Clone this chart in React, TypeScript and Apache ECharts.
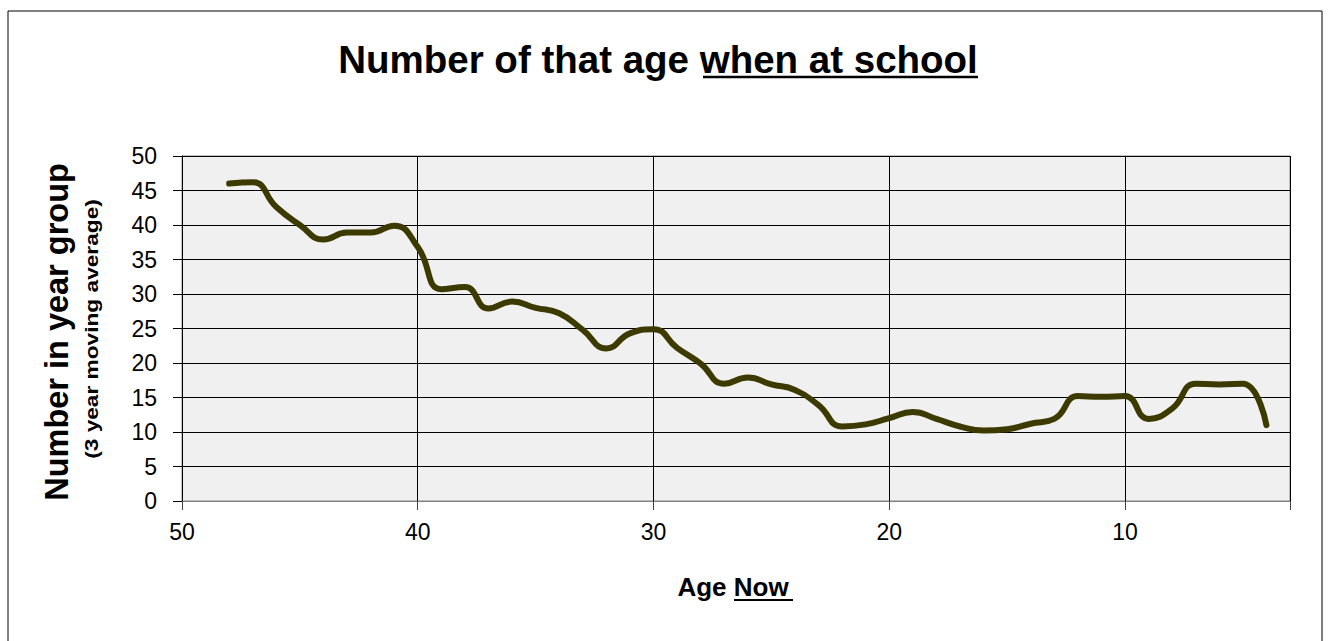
import React, { useEffect, useRef } from 'react';
import * as echarts from 'echarts';

// Age now (x) and number in year group, 3-year moving average (y)
const ages = [48, 47, 46, 45, 44, 43, 42, 41, 40, 39, 38, 37, 36, 35, 34, 33, 32, 31, 30, 29, 28, 27, 26, 25, 24, 23, 22, 21, 20, 19, 18, 17, 16, 15, 14, 13, 12, 11, 10, 9, 8, 7, 6, 5, 4];
const counts = [46, 46.2, 42.6, 40, 37.9, 38.9, 38.9, 39.9, 36.8, 30.7, 31, 27.9, 28.9, 28, 27.2, 24.8, 22.1, 24.3, 24.9, 22.2, 19.9, 17, 17.9, 16.9, 16.1, 13.9, 10.8, 11.1, 12, 12.9, 11.9, 10.8, 10.2, 10.4, 11.2, 11.9, 15.2, 15.1, 15.2, 11.9, 13.4, 17, 16.9, 17, 11];

// x axis runs from age 50 (left) down to age 3 (right); plotted as negative age
const xAgeMax = 50;
const xAgeMin = 3;
const xStep = 10;
const yMin = 0;
const yMax = 50;
const yStep = 5;

const titleText = 'Number of that age when at school';
const yTitle = 'Number in year group';
const ySubTitle = '(3 year moving average)';
const xTitle = 'Age Now';

const FONT = '"Liberation Sans", Arial, sans-serif';

export default function App() {
  const ref = useRef<HTMLDivElement>(null);
  useEffect(() => {
    const chart = echarts.init(ref.current as HTMLDivElement, null, { renderer: 'svg' });
    chart.setOption({
      animation: false,
      backgroundColor: '#ffffff',
      grid: {
        left: 182,
        right: 40,
        top: 156,
        bottom: 140,
        show: true,
        backgroundColor: '#f0f0f0',
        borderColor: '#888888',
        borderWidth: 1,
      },
      xAxis: {
        type: 'value',
        min: -xAgeMax,
        max: -xAgeMin,
        interval: xStep,
        axisLine: { show: true, lineStyle: { color: '#808080', width: 1 } },
        axisTick: { show: true, length: 9, lineStyle: { color: '#444444' } },
        splitLine: { show: true, lineStyle: { color: '#000000', width: 1 } },
        axisLabel: {
          fontFamily: FONT,
          fontSize: 23,
          color: '#000',
          margin: 19,
          formatter: (v: number) => (Math.abs(v) % xStep === 0 ? String(Math.abs(v)) : ''),
        },
      },
      yAxis: {
        type: 'value',
        min: yMin,
        max: yMax,
        interval: yStep,
        axisLine: { show: true, lineStyle: { color: '#000000', width: 1 } },
        axisTick: { show: true, length: 9, lineStyle: { color: '#000000' } },
        splitLine: { show: true, lineStyle: { color: '#000000', width: 1 } },
        axisLabel: {
          fontFamily: FONT,
          fontSize: 23,
          color: '#000',
          margin: 25,
        },
      },
      series: [
        {
          type: 'line',
          data: ages.map((a, i) => [-a, counts[i]]),
          smooth: 0.5,
          showSymbol: false,
          symbol: 'none',
          lineStyle: { color: '#3d3a00', width: 6, cap: 'round', join: 'round' },
        },
      ],
      graphic: [
        {
          type: 'rect',
          silent: true,
          shape: { x: 8, y: 11, width: 1314, height: 640 },
          style: { fill: 'none', stroke: '#000', lineWidth: 1 },
        },
        {
          type: 'text',
          x: 658,
          y: 59,
          style: {
            text: titleText,
            font: 'bold 38.5px ' + FONT,
            fill: '#000',
            align: 'center',
            verticalAlign: 'middle',
            textAlign: 'center',
            textVerticalAlign: 'middle',
          },
        },
        {
          type: 'line',
          shape: { x1: 703, y1: 77, x2: 978, y2: 77 },
          style: { stroke: '#000', lineWidth: 2.5 },
        },
        {
          type: 'text',
          x: 57,
          y: 332,
          rotation: Math.PI / 2,
          style: {
            text: yTitle,
            font: 'bold 32.5px ' + FONT,
            fill: '#000',
            align: 'center',
            verticalAlign: 'middle',
            textAlign: 'center',
            textVerticalAlign: 'middle',
          },
        },
        {
          type: 'text',
          x: 91,
          y: 329,
          rotation: Math.PI / 2,
          scaleX: 1.26,
          style: {
            text: ySubTitle,
            font: 'bold 18px ' + FONT,
            fill: '#000',
            align: 'center',
            verticalAlign: 'middle',
            textAlign: 'center',
            textVerticalAlign: 'middle',
          },
        },
        {
          type: 'text',
          x: 733,
          y: 587,
          style: {
            text: xTitle,
            font: 'bold 26px ' + FONT,
            fill: '#000',
            align: 'center',
            verticalAlign: 'middle',
            textAlign: 'center',
            textVerticalAlign: 'middle',
          },
        },
        {
          type: 'line',
          shape: { x1: 734, y1: 600, x2: 793, y2: 600 },
          style: { stroke: '#000', lineWidth: 2 },
        },
      ],
    });
    return () => chart.dispose();
  }, []);
  return <div ref={ref} style={{ position: 'absolute', left: 0, top: 0, width: 1330, height: 641 }} />;
}
